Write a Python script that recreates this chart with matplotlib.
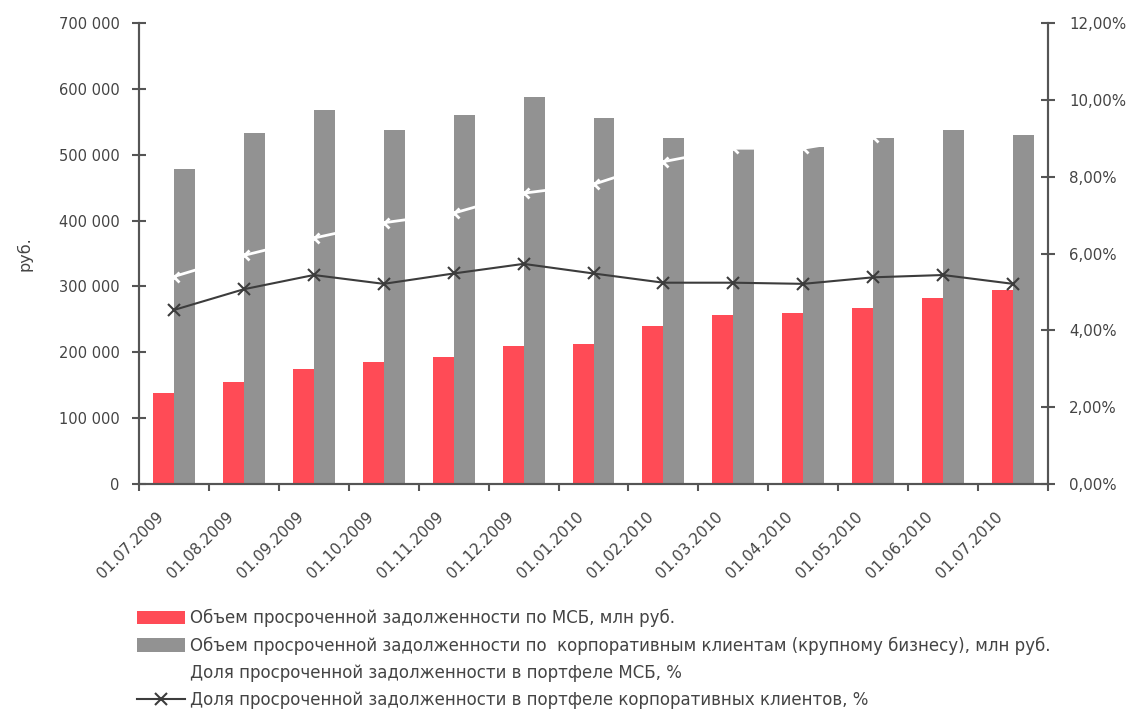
import matplotlib
matplotlib.use('Agg')
import matplotlib.pyplot as plt
import matplotlib.transforms as mtransforms
import numpy as np

# данные с графика
dates = ['01.07.2009', '01.08.2009', '01.09.2009', '01.10.2009', '01.11.2009',
         '01.12.2009', '01.01.2010', '01.02.2010', '01.03.2010', '01.04.2010',
         '01.05.2010', '01.06.2010', '01.07.2010']
msb_volume = [138000, 155000, 174000, 186000, 193000, 209000, 213000,
              240000, 256000, 259000, 267000, 283000, 294000]
corp_volume = [478000, 533000, 568000, 537000, 561000, 588000, 556000,
               526000, 510000, 512000, 525000, 537000, 530000]
msb_share = [0.054, 0.0595, 0.064, 0.068, 0.0705, 0.0757, 0.078,
             0.0839, 0.0874, 0.0874, 0.0904, 0.0943, np.nan]
corp_share = [0.0453, 0.0507, 0.0544, 0.0521, 0.0548, 0.0573, 0.0548,
              0.0524, 0.0524, 0.0521, 0.0538, 0.0544, 0.0521]

labels = ['Объем просроченной задолженности по МСБ, млн руб.',
          'Объем просроченной задолженности по  корпоративным клиентам (крупному бизнесу), млн руб.',
          'Доля просроченной задолженности в портфеле МСБ, %',
          'Доля просроченной задолженности в портфеле корпоративных клиентов, %']

red = '#ff4b56'
grey = '#929292'
axcol = '#555555'
txt = '#444444'

plt.rcParams['font.family'] = ['DejaVu Sans']

fig = plt.figure(figsize=(11.3, 7.11), dpi=100)
ax = fig.add_axes([139 / 1130, 1 - 484 / 711, 909 / 1130, 461 / 711])
ax2 = ax.twinx()

x = np.arange(len(dates))
w = 0.3
b1 = ax.bar(x - w / 2, msb_volume, w, color=red, label=labels[0], zorder=2)
b2 = ax.bar(x + w / 2, corp_volume, w, color=grey, label=labels[1], zorder=2)

l1, = ax2.plot(x, msb_share, color='white', lw=2, marker='x', ms=7, mew=2,
               label=labels[2], zorder=3)
l2, = ax2.plot(x, corp_share, color='#3c3c3c', lw=1.5, marker='x', ms=9, mew=1.5,
               label=labels[3], zorder=3)

ax.set_xlim(-0.5, len(dates) - 0.5)
ax.set_ylim(0, 700000)
ax2.set_ylim(0, 0.12)
ax.patch.set_visible(False)
ax2.patch.set_visible(False)

ax.set_yticks(np.arange(0, 700001, 100000))
ax.set_yticklabels(['{:,}'.format(v).replace(',', ' ') for v in range(0, 700001, 100000)])
ax2.set_yticks(np.arange(0, 0.1201, 0.02))
ax2.set_yticklabels([('%.2f%%' % (v * 100)).replace('.', ',') for v in np.arange(0, 0.1201, 0.02)])

# большие деления на границах категорий, подписи по центру
ax.set_xticks(np.arange(-0.5, len(dates), 1))
ax.set_xticklabels([])
ax.set_xticks(x, minor=True)
ax.set_xticklabels(dates, minor=True, rotation=45, ha='right', rotation_mode='anchor',
                   fontsize=11, color=txt)
ax.tick_params(axis='x', which='minor', length=0, pad=18)
ax.tick_params(axis='x', which='major', direction='out', length=5, width=1.5, color=axcol)
shift = mtransforms.ScaledTranslation(-0.18, 0, fig.dpi_scale_trans)
for lab in ax.get_xticklabels(minor=True):
    lab.set_transform(lab.get_transform() + shift)

ax.tick_params(axis='y', direction='inout', length=10, width=1.5, color=axcol,
               labelsize=10.5, labelcolor=txt, pad=9)
ax2.tick_params(axis='y', direction='inout', length=10, width=1.5, color=axcol,
                labelsize=10.8, labelcolor=txt, pad=10)

for a in (ax, ax2):
    a.spines['top'].set_visible(False)
    for s in ('left', 'right', 'bottom'):
        a.spines[s].set_color(axcol)
        a.spines[s].set_linewidth(1.5)

ax.set_ylabel('руб.', fontsize=11.5, color=txt, labelpad=19)

fig.legend([b1, b2, l1, l2], labels, loc='upper left',
           bbox_to_anchor=(137 / 1130, 1 - 609 / 711), frameon=False,
           fontsize=12, handlelength=2.9, handleheight=0.85, labelspacing=0.56,
           handletextpad=0.3, borderpad=0, borderaxespad=0, labelcolor=txt)

fig.savefig('out.png', dpi=100)
